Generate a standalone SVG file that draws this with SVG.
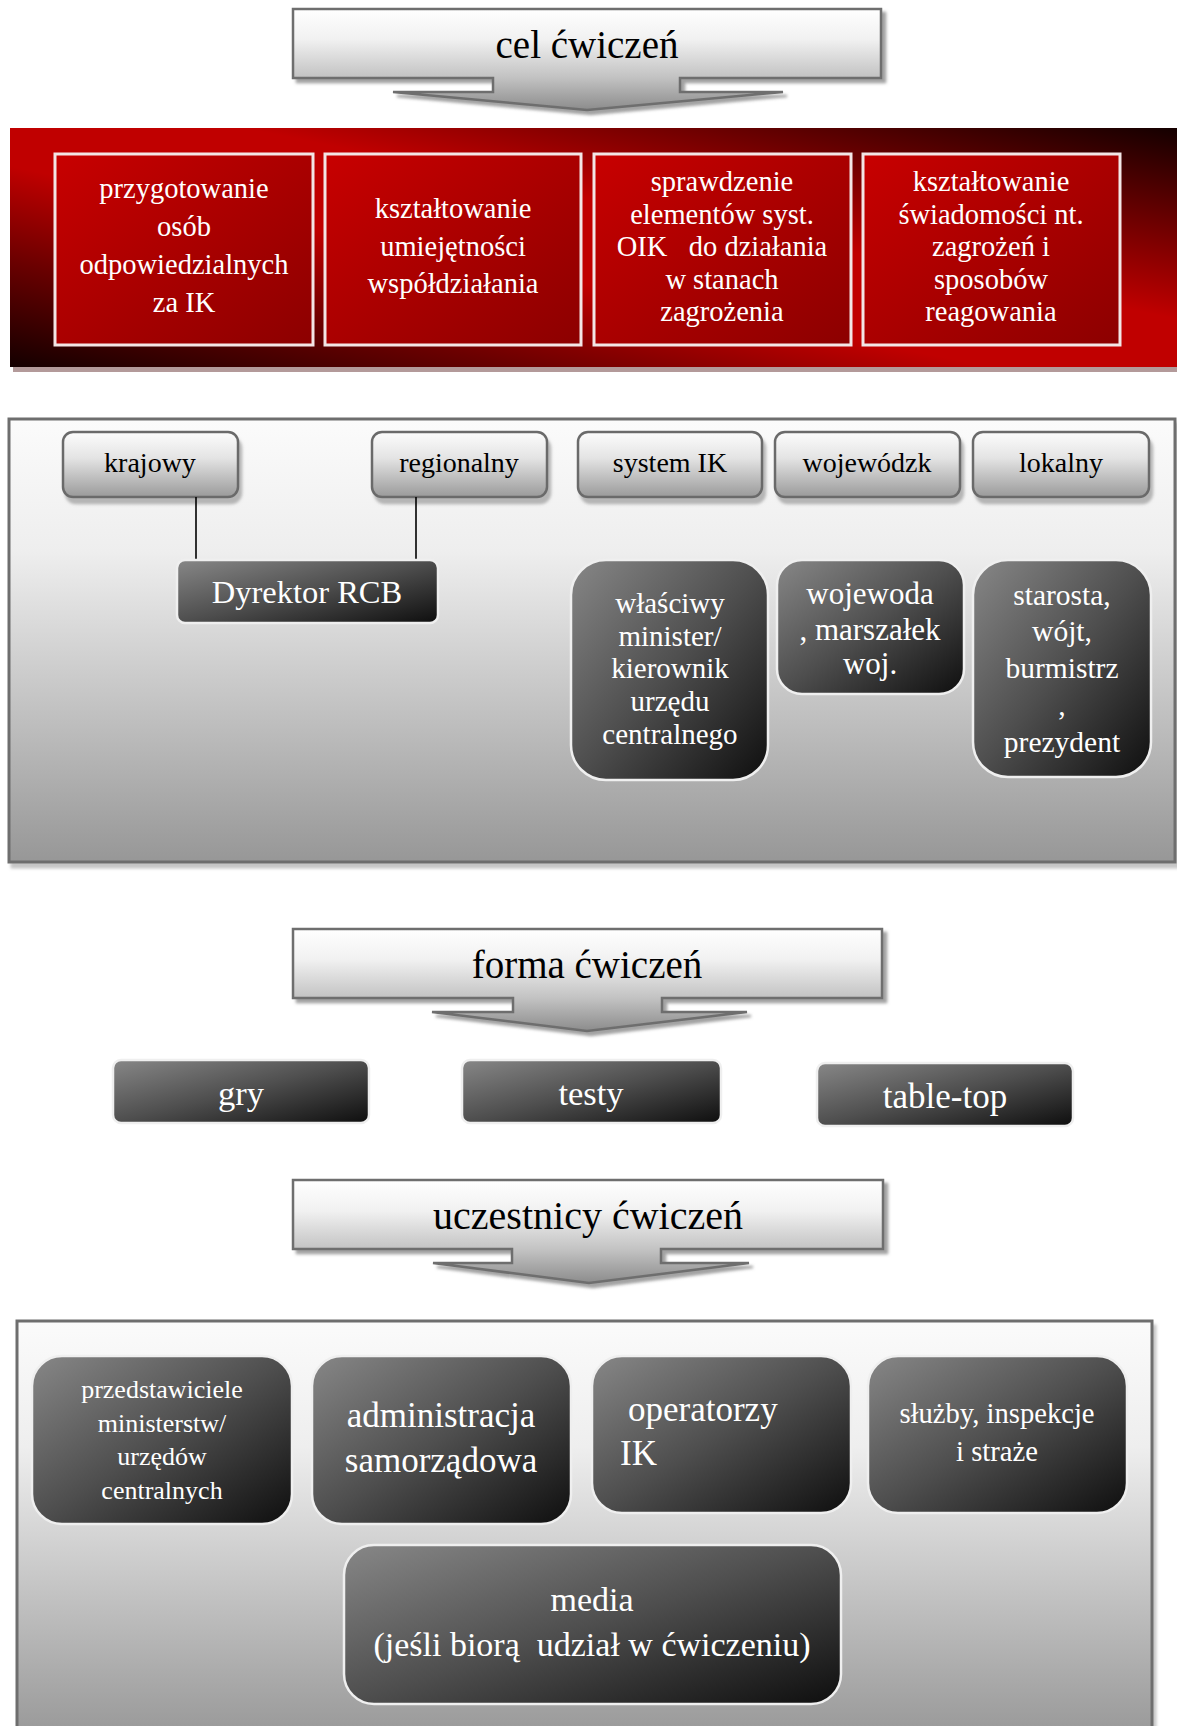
<svg xmlns="http://www.w3.org/2000/svg" width="1177" height="1726" viewBox="0 0 1177 1726">
<defs>
  <style>
    .t{font-family:"Liberation Serif","DejaVu Serif",serif;text-anchor:middle}
    .w{fill:#ffffff}
    .k{fill:#000000}
    .hdr{fill:url(#gHdr);stroke:#6e6e6e;stroke-width:2.5;filter:url(#shHdr)}
    .redbox{fill:url(#gRedBox);stroke:#f3e6e6;stroke-width:3}
    .label{fill:url(#gLabel);stroke:#6b6b6b;stroke-width:2.5;filter:url(#shLbl)}
    .dark{fill:url(#gDark);stroke:#efefef;stroke-width:2.5}
    .panel{stroke:#6e6e6e;stroke-width:3;filter:url(#shPanel)}
    .conn{stroke:#000;stroke-width:1.6;fill:none}
  </style>
  <linearGradient id="gHdr" x1="0" y1="0" x2="0" y2="1">
    <stop offset="0" stop-color="#ffffff"/>
    <stop offset="0.3" stop-color="#f1f1f1"/>
    <stop offset="0.68" stop-color="#c2c2c2"/>
    <stop offset="1" stop-color="#8c8c8c"/>
  </linearGradient>
  <linearGradient id="gBand" x1="0" y1="1" x2="1" y2="0">
    <stop offset="0" stop-color="#140000"/>
    <stop offset="0.22" stop-color="#6a0000"/>
    <stop offset="0.42" stop-color="#c00000"/>
    <stop offset="0.6" stop-color="#c00000"/>
    <stop offset="0.8" stop-color="#6a0000"/>
    <stop offset="1" stop-color="#140000"/>
  </linearGradient>
  <linearGradient id="gRedBox" x1="0" y1="0" x2="1" y2="1">
    <stop offset="0" stop-color="#c80000"/>
    <stop offset="1" stop-color="#8c0000"/>
  </linearGradient>
  <linearGradient id="gLabel" x1="0" y1="0" x2="0" y2="1">
    <stop offset="0" stop-color="#fcfcfc"/>
    <stop offset="0.4" stop-color="#e4e4e4"/>
    <stop offset="1" stop-color="#9a9a9a"/>
  </linearGradient>
  <linearGradient id="gDark" x1="0" y1="0" x2="1" y2="1">
    <stop offset="0" stop-color="#878787"/>
    <stop offset="0.5" stop-color="#4e4e4e"/>
    <stop offset="1" stop-color="#0e0e0e"/>
  </linearGradient>
  <linearGradient id="gPanel" x1="0" y1="0" x2="0" y2="1">
    <stop offset="0" stop-color="#fbfbfb"/>
    <stop offset="0.3" stop-color="#eeeeee"/>
    <stop offset="1" stop-color="#979797"/>
  </linearGradient>
  <filter id="shHdr" x="-5%" y="-10%" width="115%" height="130%">
    <feDropShadow dx="4" dy="4" stdDeviation="1.5" flood-color="#7a7a7a" flood-opacity="0.7"/>
  </filter>
  <filter id="shLbl" x="-10%" y="-10%" width="125%" height="140%">
    <feDropShadow dx="3" dy="6" stdDeviation="1.5" flood-color="#9a9a9a" flood-opacity="0.7"/>
  </filter>
  <filter id="shPanel" x="-5%" y="-5%" width="115%" height="115%">
    <feDropShadow dx="3" dy="5" stdDeviation="1.5" flood-color="#a0a0a0" flood-opacity="0.6"/>
  </filter>
</defs>

<rect width="1177" height="1726" fill="#ffffff"/>

<!-- Section 1: cel ćwiczeń -->
<g id="hdr-cel">
  <path class="hdr" d="M293,9 H881 V78 H680 V92 H783 L587,110 L393,92 H493 V78 H293 Z"/>
  <text class="t k" x="587" y="58" font-size="39">cel ćwiczeń</text>
</g>

<g id="band-red">
  <rect x="13" y="132" width="1167" height="240" fill="#b39a9a"/>
  <rect x="10" y="128" width="1167" height="239" fill="url(#gBand)"/>
</g>

<g id="cel-1">
  <rect class="redbox" x="55" y="154" width="258" height="191"/>
  <text class="t w" font-size="28.5"><tspan x="184" y="198">przygotowanie</tspan><tspan x="184" y="236">osób</tspan><tspan x="184" y="274">odpowiedzialnych</tspan><tspan x="184" y="312">za IK</tspan></text>
</g>
<g id="cel-2">
  <rect class="redbox" x="325" y="154" width="256" height="191"/>
  <text class="t w" font-size="28.5"><tspan x="453" y="218">kształtowanie</tspan><tspan x="453" y="256">umiejętności</tspan><tspan x="453" y="293">współdziałania</tspan></text>
</g>
<g id="cel-3">
  <rect class="redbox" x="594" y="154" width="257" height="191"/>
  <text class="t w" font-size="28.5" xml:space="preserve"><tspan x="722" y="191">sprawdzenie</tspan><tspan x="722" y="224">elementów syst.</tspan><tspan x="722" y="256">OIK   do działania</tspan><tspan x="722" y="289">w stanach</tspan><tspan x="722" y="321">zagrożenia</tspan></text>
</g>
<g id="cel-4">
  <rect class="redbox" x="863" y="154" width="257" height="191"/>
  <text class="t w" font-size="28.5"><tspan x="991" y="191">kształtowanie</tspan><tspan x="991" y="224">świadomości nt.</tspan><tspan x="991" y="256">zagrożeń i</tspan><tspan x="991" y="289">sposobów</tspan><tspan x="991" y="321">reagowania</tspan></text>
</g>

<!-- Section 2: levels panel -->
<g id="panel-levels">
  <rect class="panel" x="9" y="419" width="1166" height="443" fill="url(#gPanel)"/>
</g>

<g id="lbl-krajowy">
  <rect class="label" x="63" y="432" width="175" height="65" rx="10"/>
  <text class="t k" x="150" y="472" font-size="28">krajowy</text>
</g>
<g id="lbl-regionalny">
  <rect class="label" x="372" y="432" width="175" height="65" rx="10"/>
  <text class="t k" x="459" y="472" font-size="28">regionalny</text>
</g>
<g id="lbl-system">
  <rect class="label" x="578" y="432" width="184" height="65" rx="10"/>
  <text class="t k" x="670" y="472" font-size="28">system IK</text>
</g>
<g id="lbl-wojewodzk">
  <rect class="label" x="775" y="432" width="185" height="65" rx="10"/>
  <text class="t k" x="867" y="472" font-size="28">wojewódzk</text>
</g>
<g id="lbl-lokalny">
  <rect class="label" x="973" y="432" width="176" height="65" rx="10"/>
  <text class="t k" x="1061" y="472" font-size="28">lokalny</text>
</g>

<g id="connectors">
  <line class="conn" x1="196" y1="497" x2="196" y2="560"/>
  <line class="conn" x1="416" y1="497" x2="416" y2="560"/>
</g>

<g id="dyrektor">
  <rect class="dark" x="177" y="560" width="261" height="63" rx="8"/>
  <text class="t w" x="307" y="603" font-size="32.5">Dyrektor RCB</text>
</g>
<g id="minister">
  <rect class="dark" x="571" y="560" width="197" height="220" rx="35"/>
  <text class="t w" font-size="29"><tspan x="670" y="613">właściwy</tspan><tspan x="670" y="646">minister/</tspan><tspan x="670" y="678">kierownik</tspan><tspan x="670" y="711">urzędu</tspan><tspan x="670" y="744">centralnego</tspan></text>
</g>
<g id="wojewoda">
  <rect class="dark" x="777" y="560" width="187" height="134" rx="25"/>
  <text class="t w" font-size="31"><tspan x="870" y="604">wojewoda</tspan><tspan x="870" y="640">, marszałek</tspan><tspan x="870" y="674">woj.</tspan></text>
</g>
<g id="starosta">
  <rect class="dark" x="973" y="560" width="178" height="217" rx="35"/>
  <text class="t w" font-size="29.5"><tspan x="1062" y="605">starosta,</tspan><tspan x="1062" y="641">wójt,</tspan><tspan x="1062" y="678">burmistrz</tspan><tspan x="1062" y="715">,</tspan><tspan x="1062" y="752">prezydent</tspan></text>
</g>

<!-- Section 3: forma ćwiczeń -->
<g id="hdr-forma">
  <path class="hdr" d="M293,929 H882 V998 H662 V1012 H747 L587,1031 L432,1012 H513 V998 H293 Z"/>
  <text class="t k" x="587" y="978" font-size="39">forma ćwiczeń</text>
</g>
<g id="forma-gry">
  <rect class="dark" x="113" y="1060" width="256" height="63" rx="8"/>
  <text class="t w" x="241" y="1105" font-size="34.5">gry</text>
</g>
<g id="forma-testy">
  <rect class="dark" x="462" y="1060" width="259" height="63" rx="8"/>
  <text class="t w" x="591" y="1105" font-size="34.5">testy</text>
</g>
<g id="forma-tabletop">
  <rect class="dark" x="817" y="1063" width="256" height="63" rx="8"/>
  <text class="t w" x="945" y="1108" font-size="35">table-top</text>
</g>

<!-- Section 4: uczestnicy ćwiczeń -->
<g id="hdr-uczestnicy">
  <path class="hdr" d="M293,1180 H883 V1249 H661 V1263 H749 L589,1283 L433,1263 H512 V1249 H293 Z"/>
  <text class="t k" x="588" y="1229" font-size="40">uczestnicy ćwiczeń</text>
</g>

<g id="panel-uczestnicy">
  <rect class="panel" x="17" y="1321" width="1135" height="420" fill="url(#gPanel)"/>
</g>

<g id="u-przedstawiciele">
  <rect class="dark" x="32" y="1356" width="260" height="168" rx="30"/>
  <text class="t w" font-size="26"><tspan x="162" y="1398">przedstawiciele</tspan><tspan x="162" y="1432">ministerstw/</tspan><tspan x="162" y="1465">urzędów</tspan><tspan x="162" y="1499">centralnych</tspan></text>
</g>
<g id="u-administracja">
  <rect class="dark" x="312" y="1356" width="259" height="168" rx="30"/>
  <text class="t w" font-size="35"><tspan x="441" y="1427">administracja</tspan><tspan x="441" y="1472">samorządowa</tspan></text>
</g>
<g id="u-operatorzy">
  <rect class="dark" x="592" y="1356" width="259" height="157" rx="30"/>
  <text class="t w" font-size="35" style="text-anchor:start"><tspan x="628" y="1421">operatorzy</tspan><tspan x="620" y="1465">IK</tspan></text>
</g>
<g id="u-sluzby">
  <rect class="dark" x="868" y="1356" width="259" height="157" rx="30"/>
  <text class="t w" font-size="28.6"><tspan x="997" y="1423">służby, inspekcje</tspan><tspan x="997" y="1461">i straże</tspan></text>
</g>
<g id="u-media">
  <rect class="dark" x="344" y="1545" width="497" height="159" rx="30"/>
  <text class="t w" font-size="34" xml:space="preserve"><tspan x="592" y="1611">media</tspan><tspan x="592" y="1656">(jeśli biorą  udział w ćwiczeniu)</tspan></text>
</g>
</svg>
